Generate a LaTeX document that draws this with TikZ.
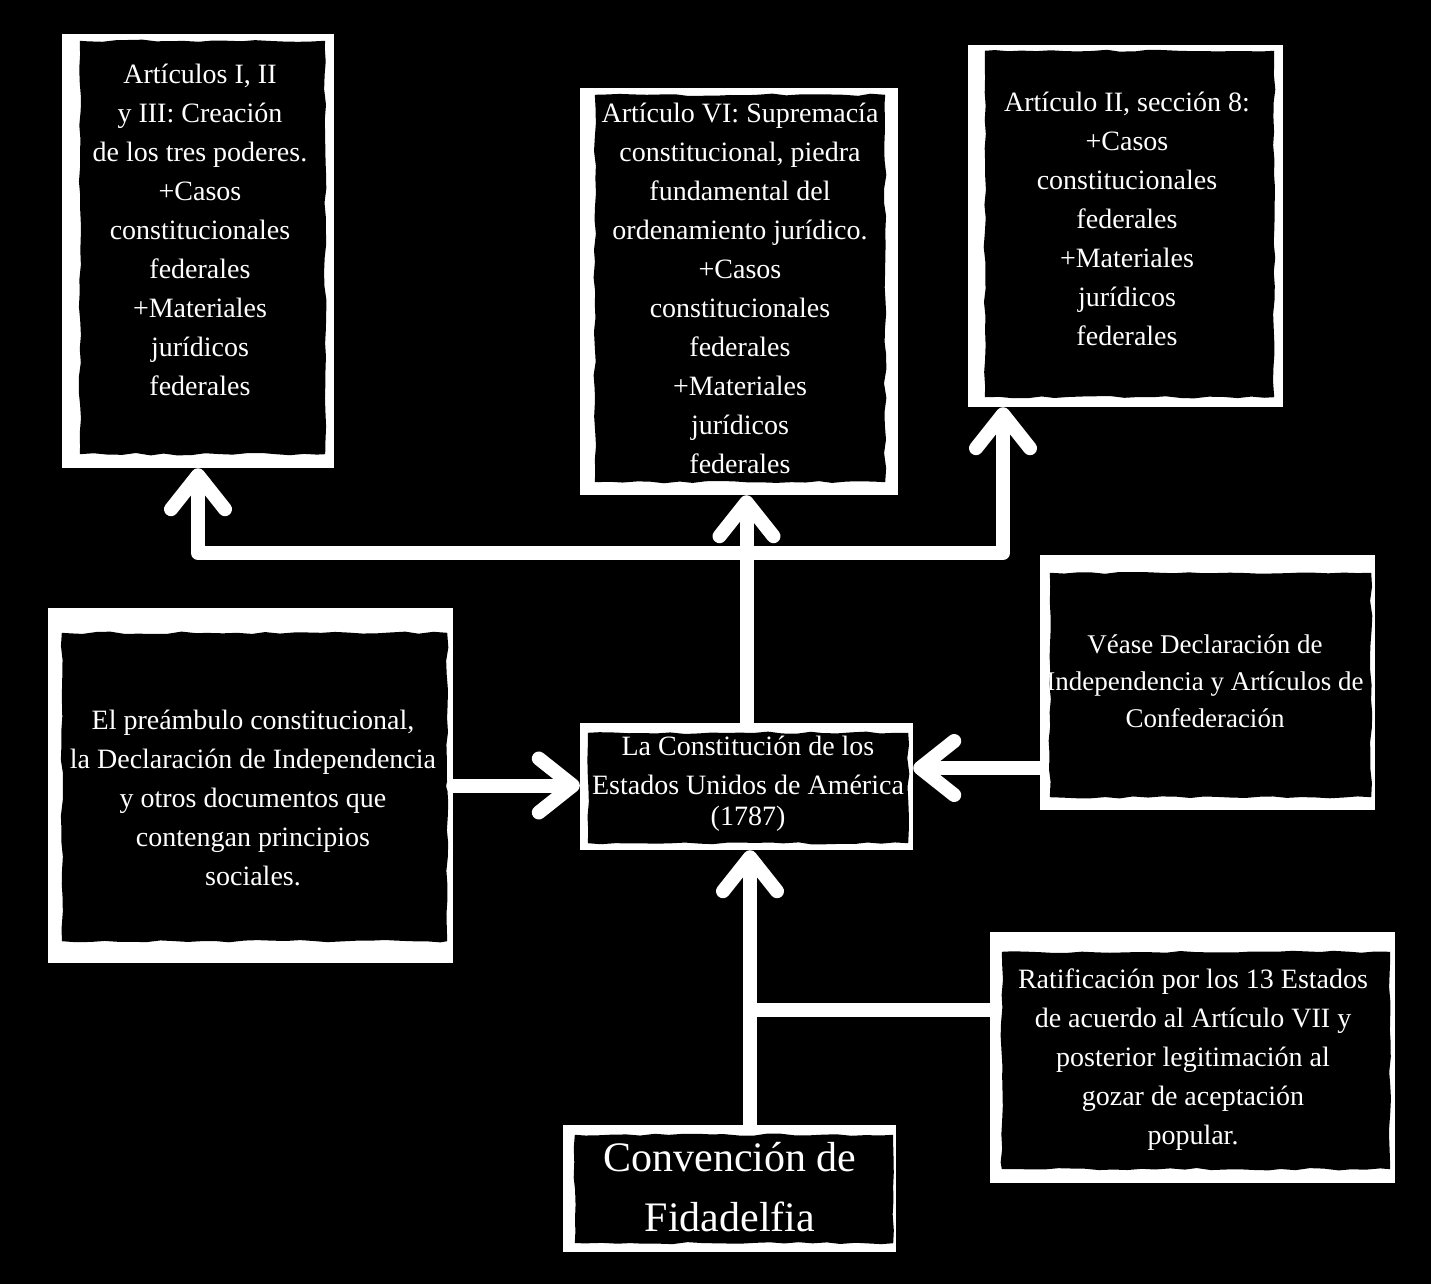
\documentclass[tikz,border=0pt]{standalone}
\usepackage{fontspec}
\setmainfont{Liberation Serif}
\usetikzlibrary{arrows.meta,decorations.pathmorphing,calc}
\begin{document}
\begin{tikzpicture}[x=1pt,y=-1pt,
  frame/.style={fill=white, inner sep=0pt, draw=none},
  torn/.style={fill=black, decorate, decoration={random steps, segment length=14pt, amplitude=1.2pt}},
  txt/.style={text=white, align=center, inner sep=0pt, font=\fontsize{28pt}{39pt}\selectfont},
  conn/.style={draw=white, line width=14pt, line cap=round, line join=round},
  barb/.tip={Straight Barb[length=34pt,width=54pt,round]},
  arr/.style={conn, -barb},
  arrboth/.style={conn, barb-barb}
]
\pgfmathsetseed{7}
\useasboundingbox (0,0) rectangle (1431,1284);
\fill[black] (0,0) rectangle (1431,1284);

% frames
\node[frame, minimum width=272pt, minimum height=434pt] (A) at (198,251) {};
\node[frame, minimum width=318pt, minimum height=407pt] (B) at (739,291.5) {};
\node[frame, minimum width=315pt, minimum height=362pt] (C) at (1125.5,226) {};
\node[frame, minimum width=405pt, minimum height=355pt] (D) at (250.5,785.5) {};
\node[frame, minimum width=333pt, minimum height=127pt] (E) at (746.5,786.5) {};
\node[frame, minimum width=335pt, minimum height=255pt] (F) at (1207.5,682.5) {};
\node[frame, minimum width=405pt, minimum height=251pt] (G) at (1192.5,1057.5) {};
\node[frame, minimum width=333pt, minimum height=127pt] (H) at (729.5,1188.5) {};

% torn black interiors
\fill[torn] ($(A.north west)+(18,7)$) rectangle ($(A.south east)+(-9,-14)$);
\fill[torn] ($(B.north west)+(15,7)$) rectangle ($(B.south east)+(-13,-13)$);
\fill[torn] ($(C.north west)+(17,6)$) rectangle ($(C.south east)+(-9,-10)$);
\fill[torn] ($(D.north west)+(14,25)$) rectangle ($(D.south east)+(-6,-22)$);
\fill[torn] ($(E.north west)+(8,10)$) rectangle ($(E.south east)+(-5,-7)$);
\fill[torn] ($(F.north west)+(10,18)$) rectangle ($(F.south east)+(-4,-13)$);
\fill[torn] ($(G.north west)+(12,20)$) rectangle ($(G.south east)+(-5,-14)$);
\fill[torn] ($(H.north west)+(12,10)$) rectangle ($(H.south east)+(-3,-9)$);

% texts
\node[txt] (At) at (200,230) {Artículos I, II\\ y III: Creación\\ de los tres poderes.\\ +Casos\\ constitucionales\\ federales\\ +Materiales\\ jurídicos\\ federales};
\node[txt] (Bt) at (740,288) {Artículo VI: Supremacía\\ constitucional, piedra\\ fundamental del\\ ordenamiento jurídico.\\ +Casos\\ constitucionales\\ federales\\ +Materiales\\ jurídicos\\ federales};
\node[txt] (Ct) at (1127,219) {Artículo II, sección 8:\\ +Casos\\ constitucionales\\ federales\\ +Materiales\\ jurídicos\\ federales};
\node[txt] (Dt) at (253,798) {El preámbulo constitucional,\\ la Declaración de Independencia\\ y otros documentos que\\ contengan principios\\ sociales.};
\node[txt] (Et) at (748,784) {La Constitución de los\\ Estados Unidos de América\\[-8pt] (1787)};
\node[txt, font=\fontsize{27pt}{37pt}\selectfont] (Ft) at (1205,681) {Véase Declaración de\\ Independencia y Artículos de\\ Confederación};
\node[txt] (Gt) at (1193,1060) {Ratificación por los 13 Estados\\ de acuerdo al Artículo VII y\\ posterior legitimación al\\ gozar de aceptación\\ popular.};
\node[txt, font=\fontsize{42pt}{60pt}\selectfont] (Ht) at (730,1187) {Convención de\\ Fidadelfia};

% connectors
\coordinate (bus) at (0,553);
\coordinate (vx) at (750,0);
\coordinate (cx) at (1003,0);
\coordinate (k) at (0,768);
\coordinate (j) at (0,1010);
\draw[arr] (E.north) -- (E.north |- B.south);
\draw[arrboth] (A.south) -- (A.south |- bus) -- (cx |- bus) -- (cx |- C.south);
\draw[arr] (D.east) -- (E.west |- D.east);
\draw[arr] (F.west |- k) -- (E.east |- k);
\draw[arr] (H.north -| vx) -- (E.south -| vx);
\draw[conn] (G.west |- j) -- (vx |- j);
\end{tikzpicture}
\end{document}
